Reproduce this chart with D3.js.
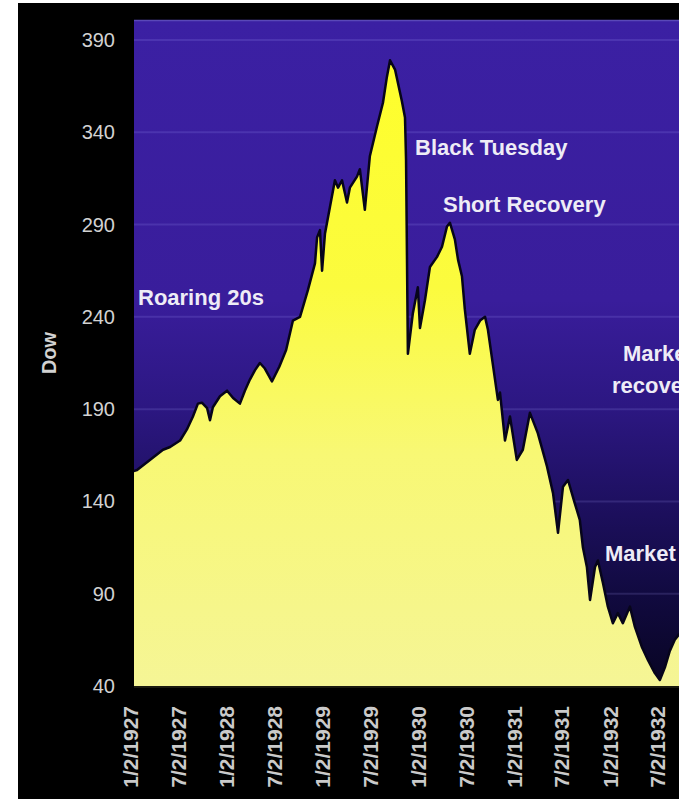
<!DOCTYPE html>
<html>
<head>
<meta charset="utf-8">
<script src="https://cdn.jsdelivr.net/npm/d3@7"></script>
<style>
  body { margin: 0; background: #ffffff; }
  .main { width: 679px; height: 799px; overflow: hidden; }
</style>
</head>
<body>
<div class="main"></div>
<script>
// Dow readings
var dates = ["1927-01-02","1927-01-25","1927-03-15","1927-05-04","1927-05-31","1927-07-08","1927-08-03","1927-08-26",
  "1927-09-14","1927-09-29","1927-10-19","1927-10-30","1927-11-10","1927-12-07","1928-01-03","1928-01-26","1928-02-21",
  "1928-03-11","1928-03-30","1928-04-18","1928-05-07","1928-05-26","1928-06-22","1928-07-20","1928-08-15","1928-09-10",
  "1928-10-07","1928-11-06","1928-12-03","1928-12-11","1928-12-22","1928-12-30","1929-01-10","1929-01-29","1929-02-17",
  "1929-03-01","1929-03-16","1929-04-04","1929-04-15","1929-05-12","1929-05-23","1929-06-11","1929-06-30","1929-07-27",
  "1929-08-19","1929-09-03","1929-09-15","1929-10-04","1929-10-30","1929-11-11","1929-11-15","1929-11-22","1929-12-11",
  "1929-12-30","1930-01-07","1930-01-26","1930-02-14","1930-03-13","1930-04-01","1930-04-20","1930-05-01","1930-05-20",
  "1930-06-01","1930-06-16","1930-06-27","1930-07-16","1930-08-04","1930-08-24","1930-09-12","1930-09-23","1930-10-12",
  "1930-10-31","1930-11-08","1930-11-27","1930-12-16","1931-01-11","1931-02-03","1931-03-02","1931-04-01","1931-05-06",
  "1931-05-29","1931-06-17","1931-07-06","1931-07-25","1931-08-20","1931-09-08","1931-09-20","1931-10-05","1931-10-17",
  "1931-11-05","1931-11-16","1931-12-05","1931-12-24","1932-01-12","1932-01-31","1932-02-19","1932-03-17","1932-04-05",
  "1932-05-02","1932-05-25","1932-06-20","1932-07-09","1932-07-28","1932-08-16","1932-09-04","1932-09-20","1932-10-12"];
var dow = [156,157,162.5,168,169.5,173,179,186,
  193,193.5,190.5,184,191,197,200,196,193,
  200,206,211,215,212,205,213,222,238,
  240,254.5,269,283,287,265,285,299.5,314,
  310,314,302,310,316,320,298,327,343,
  356,370,379,374,357,348,325,220,242,
  256,234,249,267,272.5,278,289,291,282,
  271,262,244,220,233,238,240,233,214,
  195,199,173,186,162.5,168,188,177,159,
  144.5,123,148,151.6,139,130,115,104.5,86.6,
  104.5,108,96,83,74,79.5,74,83,72,
  61,54,47,43.3,50,59,65,68,70];

var tickDates = ["1927-01-02","1927-07-02","1928-01-02","1928-07-02","1929-01-02","1929-07-02",
  "1930-01-02","1930-07-02","1931-01-02","1931-07-02","1932-01-02","1932-07-02"];
var yTicks = [40,90,140,190,240,290,340,390];

var notes = [
  {text: "Roaring 20s", x: 138, y: 305},
  {text: "Black Tuesday", x: 415, y: 155},
  {text: "Short Recovery", x: 443, y: 212},
  {text: "Market", x: 623, y: 361},
  {text: "recovery", x: 612, y: 393},
  {text: "Market bottom", x: 605, y: 561}
];

const W = 679, H = 799;
const plot = {left: 134, right: 679, top: 20, bottom: 687};

var parse = d3.timeParse("%Y-%m-%d");
var fmt = d3.timeFormat("%-m/%-d/%Y");
var data = dates.map(function(d, i) { return {date: parse(d), value: dow[i]}; });

var svg = d3.select(".main").append("svg")
    .attr("width", W)
    .attr("height", H);

var defs = svg.append("defs");

//blue background fade
var bg = defs.append("linearGradient")
    .attr("id", "bgGrad")
    .attr("gradientUnits", "userSpaceOnUse")
    .attr("x1", 0).attr("x2", 0)
    .attr("y1", plot.top).attr("y2", plot.bottom);
[["0%","#3b20a3"],["42%","#391d9b"],["58%","#2c1782"],["72%","#1e1061"],["86%","#110a40"],["100%","#080522"]]
  .forEach(function(s) { bg.append("stop").attr("offset", s[0]).attr("stop-color", s[1]); });

//yellow fill fade
var yg = defs.append("linearGradient")
    .attr("id", "yelGrad")
    .attr("gradientUnits", "userSpaceOnUse")
    .attr("x1", 0).attr("x2", 0)
    .attr("y1", plot.top).attr("y2", plot.bottom);
[["0%","#ffff28"],["40%","#fbfb3e"],["65%","#f8f874"],["100%","#f5f596"]]
  .forEach(function(s) { yg.append("stop").attr("offset", s[0]).attr("stop-color", s[1]); });

defs.append("clipPath")
    .attr("id", "plotClip")
  .append("rect")
    .attr("x", plot.left)
    .attr("y", plot.top)
    .attr("width", plot.right - plot.left)
    .attr("height", plot.bottom - plot.top);

//black card
svg.append("rect")
    .attr("x", 18)
    .attr("y", 3)
    .attr("width", W - 18)
    .attr("height", H - 3)
    .style("fill", "#000");

var x = d3.scaleTime()
    .domain([parse("1927-01-02"), parse("1932-07-02")])
    .range([131, 658]);

var y = d3.scaleLinear()
    .domain([40, 390])
    .range([686, 40]);

svg.append("rect")
    .attr("x", plot.left)
    .attr("y", plot.top)
    .attr("width", plot.right - plot.left)
    .attr("height", plot.bottom - plot.top)
    .style("fill", "url(#bgGrad)");

svg.append("line")
    .attr("x1", plot.left).attr("x2", plot.right)
    .attr("y1", plot.top + 0.5).attr("y2", plot.top + 0.5)
    .style("stroke", "#5a48b8")
    .style("stroke-width", 1.5);

var g = svg.append("g").attr("clip-path", "url(#plotClip)");

//grid lines
g.selectAll(".grid")
    .data(yTicks)
    .enter()
    .append("line")
    .attr("x1", plot.left)
    .attr("x2", plot.right)
    .attr("y1", function(d) { return y(d); })
    .attr("y2", function(d) { return y(d); })
    .style("stroke", "rgba(170,160,255,0.16)")
    .style("stroke-width", 2);

var area = d3.area()
    .x(function(d) { return x(d.date); })
    .y0(plot.bottom)
    .y1(function(d) { return y(d.value); });

var line = d3.line()
    .x(function(d) { return x(d.date); })
    .y(function(d) { return y(d.value); });

g.append("path")
    .datum(data)
    .attr("d", area)
    .style("fill", "url(#yelGrad)");

g.append("path")
    .datum(data)
    .attr("d", line)
    .style("fill", "none")
    .style("stroke", "#07051a")
    .style("stroke-width", 2.5)
    .style("stroke-linejoin", "round");

svg.append("line")
    .attr("x1", plot.left).attr("x2", plot.right)
    .attr("y1", plot.bottom).attr("y2", plot.bottom)
    .style("stroke", "#1a1a10")
    .style("stroke-width", 2);

//y axis labels
svg.selectAll(".ylab")
    .data(yTicks)
    .enter()
    .append("text")
    .attr("x", 115)
    .attr("y", function(d) { return y(d); })
    .attr("dy", "0.35em")
    .attr("text-anchor", "end")
    .text(function(d) { return d; })
    .style("fill", "#d2d2d2")
    .style("font-family", "'Liberation Sans', Arial, sans-serif")
    .style("font-size", "20px");

svg.append("text")
    .attr("transform", "translate(49,353) rotate(-90)")
    .attr("dy", "0.35em")
    .attr("text-anchor", "middle")
    .text("Dow")
    .style("fill", "#d2d2d2")
    .style("font-family", "'Liberation Sans', Arial, sans-serif")
    .style("font-weight", "bold")
    .style("font-size", "20px");

//x axis labels, turned on their side
svg.selectAll(".xlab")
    .data(tickDates)
    .enter()
    .append("text")
    .attr("transform", function(d) { return "translate(" + x(parse(d)) + ",706) rotate(-90)"; })
    .attr("dy", "0.35em")
    .attr("text-anchor", "end")
    .text(function(d) { return fmt(parse(d)); })
    .style("fill", "#cacaca")
    .style("font-family", "'Liberation Sans', Arial, sans-serif")
    .style("font-weight", "bold")
    .style("font-size", "21px");

//notes on the chart
svg.selectAll(".note")
    .data(notes)
    .enter()
    .append("text")
    .attr("x", function(d) { return d.x; })
    .attr("y", function(d) { return d.y; })
    .text(function(d) { return d.text; })
    .style("fill", "#eeecf6")
    .style("font-family", "'Liberation Sans', Arial, sans-serif")
    .style("font-weight", "bold")
    .style("font-size", "22px");
</script>
</body>
</html>
